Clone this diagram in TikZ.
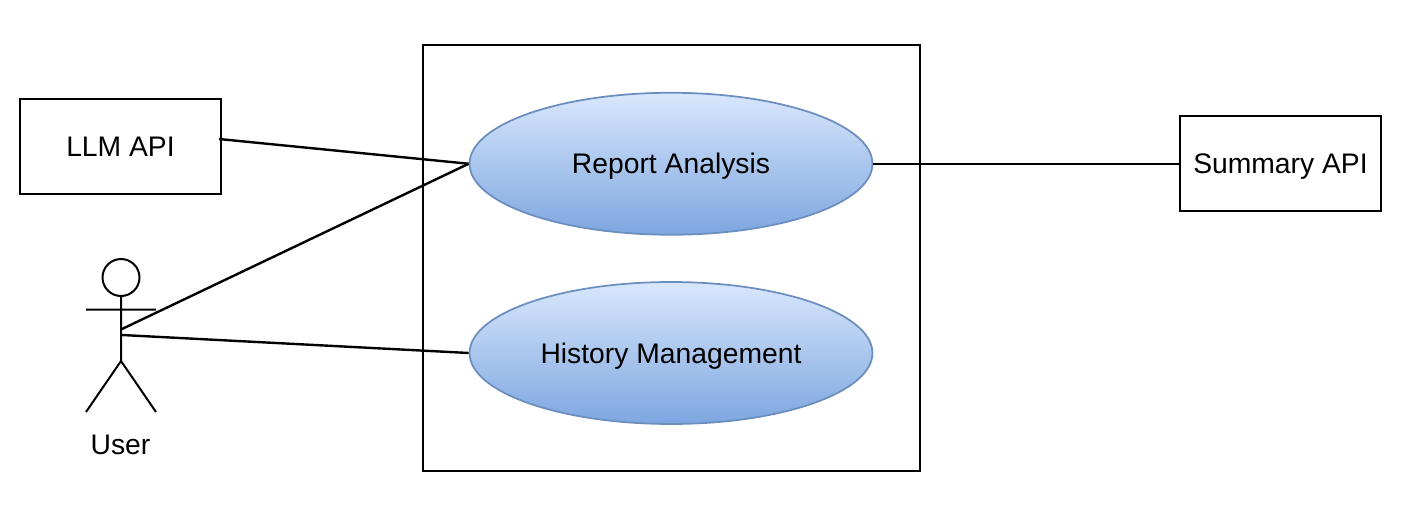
\documentclass[tikz,border=0pt]{standalone}
\usepackage{fontspec}
\setmainfont{Liberation Sans}
\usetikzlibrary{shapes.geometric}
\definecolor{caseline}{HTML}{6C8EBF}
\definecolor{casetop}{HTML}{D8E7FC}
\definecolor{casebot}{HTML}{7EA6E0}
\tikzset{
  ink/.style={line width=0.04cm,black},
  wire/.style={line width=0.048cm,black},
  label/.style={font=\fontsize{16.1}{19}\selectfont,text height=11.5pt,text depth=0pt},
  apibox/.style={ink,draw,rectangle,label,minimum width=4.04cm,minimum height=1.9cm},
  usecase/.style={ellipse,draw=caseline,line width=0.035cm,top color=casetop,bottom color=casebot,label,inner sep=0pt,minimum width=8.06cm,minimum height=2.84cm}
}
\begin{document}
\begin{tikzpicture}[x={0.02cm},y={-0.02cm}]
\useasboundingbox(0,0)rectangle(1410,518);
\node[ink,draw,rectangle,minimum width=9.94cm,minimum height=8.52cm](system)at(671.5,258){};
\node[apibox](llm)at(120.5,146.5){LLM API};
\node[apibox](summary)at(1280.5,163.75){Summary API};
\node[usecase](report)at(671,163.75){Report Analysis};
\node[usecase](history)at(671,353){History Management};
% actor
\node[ink,draw,circle,inner sep=0pt,minimum size=0.74cm](head)at(121,277.5){};
\coordinate(armL)at(86,309.5);
\coordinate(armR)at(156,309.5);
\coordinate(hip)at(121,361);
\coordinate(footL)at(86,412);
\coordinate(footR)at(156,412);
\draw[ink](head.south)--(hip)--(footL) (hip)--(footR) (armL)--(armR);
\node[label](user)at(120.5,444){User};
\coordinate(userA)at(122,329);
\coordinate(userB)at(122,335);
\coordinate(llmport)at(219,139);
\draw[wire](llmport)--(report.west);
\draw[wire](userA)--(report.west);
\draw[wire](userB)--(history.west);
\draw[wire](report.east)--(summary.west);
\end{tikzpicture}
\end{document}
